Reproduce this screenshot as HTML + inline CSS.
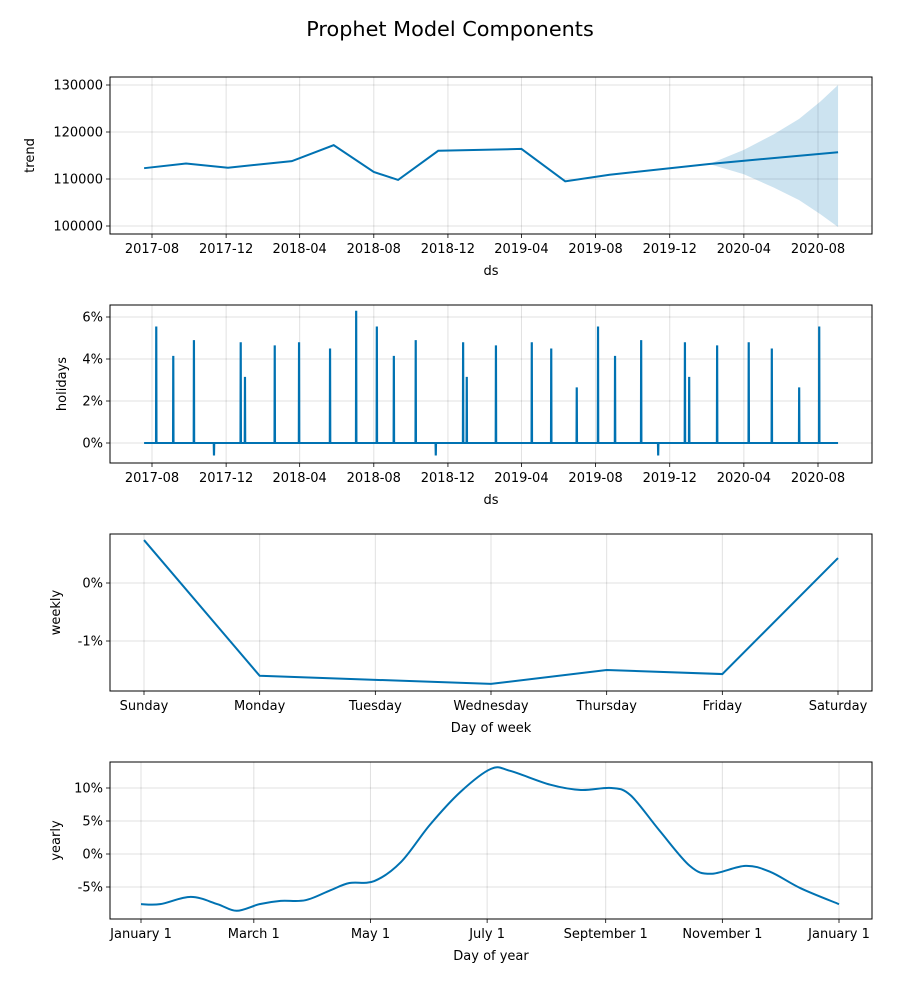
<!DOCTYPE html>
<html><head><meta charset="utf-8">
<style>
html,body{margin:0;padding:0;background:#fff;}
svg{display:block;font-family:"DejaVu Sans","Liberation Sans",sans-serif;}
</style></head>
<body>
<svg id="fig" width="900" height="990" viewBox="0 0 900 990">
<text x="450" y="36" text-anchor="middle" font-size="20.8" fill="#000">Prophet Model Components</text>
</svg>
<script>
// ---------- data ----------
const trendDates = ["2017-07-19","2017-09-26","2017-12-04","2018-03-19","2018-05-27","2018-08-01","2018-09-10","2018-11-15","2019-04-01","2019-06-12","2019-08-24","2020-02-04","2020-09-03"];
const trendValues = [112300,113300,112400,113800,117200,111500,109800,116000,116400,109500,110900,113200,115700];
const bandDates = ["2020-02-04","2020-04-01","2020-05-20","2020-07-01","2020-08-05","2020-09-03"];
const bandUpper = [113200,116200,119500,122800,126500,130000];
const bandLower = [113200,111000,108200,105500,102500,99800];
const trendTicks = ["2017-08","2017-12","2018-04","2018-08","2018-12","2019-04","2019-08","2019-12","2020-04","2020-08"];
const trendYTicks = [100000,110000,120000,130000];

const holidayOffsets = [7,35,69,102,146,153,202,242,293,336,370,398,434,467,512,518,566,625,657,699,734,762,805,833,877,884,930,982,1020,1065,1098];
const holidayValues = [5.5,4.1,4.85,-0.55,4.75,3.1,4.6,4.75,4.45,6.25,5.5,4.1,4.85,-0.55,4.75,3.1,4.6,4.75,4.45,2.6,5.5,4.1,4.85,-0.55,4.75,3.1,4.6,4.75,4.45,2.6,5.5];
const holidayYTicks = [0,2,4,6];

const weekDays = ["Sunday","Monday","Tuesday","Wednesday","Thursday","Friday","Saturday"];
const weeklyValues = [0.74,-1.60,-1.67,-1.74,-1.50,-1.57,0.43];
const weeklyYTicks = [-1,0];

const yearlyDays = [0,10,26,40,50,62,73,86,99,109,122,136,151,167,183,193,214,230,246,256,271,287,298,316,329,345,365];
const yearlyValues = [-7.6,-7.6,-6.5,-7.6,-8.6,-7.6,-7.1,-7.0,-5.5,-4.4,-4.1,-1.2,4.4,9.4,12.9,12.6,10.5,9.7,10.0,8.9,3.6,-1.8,-3.0,-1.8,-2.7,-5.2,-7.6];
const yearlyTickLabels = ["January 1","March 1","May 1","July 1","September 1","November 1","January 1"];
const yearlyTickDays = [0,59,120,181,243,304,365];
const yearlyYTicks = [-5,0,5,10];

// ---------- helpers ----------
const NS="http://www.w3.org/2000/svg";
const svg=document.getElementById('fig');
const C="#0072B2";
function mk(tag,attrs,parent){const e=document.createElementNS(NS,tag);for(const k in attrs)e.setAttribute(k,attrs[k]);(parent||svg).appendChild(e);return e;}
const L=110,R=872;
const base=Date.UTC(2017,7,1);
function dayOf(s){const p=s.split('-').map(Number);return (Date.UTC(p[0],p[1]-1,p[2]||1)-base)/864e5;}
const xDate=d=>152+d*(666/1096);
function axesFrame(top,bot,name){
  const g=mk('g',{});
  
  
  return g;
}
function gridX(g,x,top,bot,label,lname){
  mk('line',{x1:x,x2:x,y1:top,y2:bot,stroke:"#000","stroke-opacity":0.12,"stroke-width":1},g);
  mk('line',{x1:x,x2:x,y1:bot,y2:bot+4,stroke:"#000","stroke-width":0.8},g);
  const t=mk('text',{x:x,y:bot+19,"text-anchor":"middle","font-size":13},g);
  t.textContent=label;
  
  
}
function gridY(g,y,label,lname){
  mk('line',{x1:L,x2:R,y1:y,y2:y,stroke:"#000","stroke-opacity":0.12,"stroke-width":1},g);
  mk('line',{x1:L-4,x2:L,y1:y,y2:y,stroke:"#000","stroke-width":0.8},g);
  const t=mk('text',{x:L-7,y:y+4.5,"text-anchor":"end","font-size":13},g);
  t.textContent=label;
  
  
}
function border(g,top,bot){mk('rect',{x:L,y:top,width:R-L,height:bot-top,fill:"none",stroke:"#000","stroke-width":1},g);}
function labels(g,top,bot,xl,yl,yx){
  const t=mk('text',{x:(L+R)/2,y:bot+41,"text-anchor":"middle","font-size":13},g);t.textContent=xl;
  
  
  const cy=(top+bot)/2;
  const u=mk('text',{x:yx,y:cy,"text-anchor":"middle","font-size":13,transform:`rotate(-90 ${yx} ${cy})`},g);u.textContent=yl;
  
  
}
function smoothPath(pts){
  let d=`M${pts[0][0]},${pts[0][1]}`;
  for(let i=0;i<pts.length-1;i++){
    const p0=pts[Math.max(0,i-1)],p1=pts[i],p2=pts[i+1],p3=pts[Math.min(pts.length-1,i+2)];
    const c1=[p1[0]+(p2[0]-p0[0])/6,p1[1]+(p2[1]-p0[1])/6];
    const c2=[p2[0]-(p3[0]-p1[0])/6,p2[1]-(p3[1]-p1[1])/6];
    d+=` C${c1[0]},${c1[1]} ${c2[0]},${c2[1]} ${p2[0]},${p2[1]}`;
  }
  return d;
}

// ---------- panel 1: trend ----------
(function(){
  const top=77,bot=234;
  const y=v=>179-(v-110000)*(47/10000);
  const g=axesFrame(top,bot,'trend-panel');
  trendTicks.forEach(t=>gridX(g,xDate(dayOf(t)),top,bot,t,'x-tick-label'));
  trendYTicks.forEach(v=>gridY(g,y(v),String(v),'y-tick-label'));
  let d='';
  bandDates.forEach((s,i)=>{d+=(i?'L':'M')+xDate(dayOf(s))+','+y(bandUpper[i]);});
  for(let i=bandDates.length-1;i>=0;i--)d+='L'+xDate(dayOf(bandDates[i]))+','+y(bandLower[i]);
  const band=mk('path',{d:d+'Z',fill:C,"fill-opacity":0.2,stroke:"none"},g);
  
  
  const line=mk('polyline',{points:trendDates.map((s,i)=>xDate(dayOf(s))+','+y(trendValues[i])).join(' '),fill:"none",stroke:C,"stroke-width":2},g);
  
  
  border(g,top,bot);labels(g,top,bot,'ds','trend',34);
})();

// ---------- panel 2: holidays ----------
(function(){
  const top=305,bot=463;
  const y=v=>443-v*21;
  const g=axesFrame(top,bot,'holidays-panel');
  trendTicks.forEach(t=>gridX(g,xDate(dayOf(t)),top,bot,t,'x-tick-label'));
  holidayYTicks.forEach(v=>gridY(g,y(v),v+'%','y-tick-label'));
  const start=-13,end=1129;
  let pts=[[xDate(start),y(0)]];
  holidayOffsets.forEach((o,i)=>{
    const x=xDate(o);
    pts.push([x-0.3,y(0)],[x-0.1,y(holidayValues[i])],[x+0.1,y(holidayValues[i])],[x+0.3,y(0)]);
  });
  pts.push([xDate(end),y(0)]);
  const line=mk('polyline',{points:pts.map(p=>p.join(',')).join(' '),fill:"none",stroke:C,"stroke-width":2},g);
  
  
  border(g,top,bot);labels(g,top,bot,'ds','holidays',66);
})();

// ---------- panel 3: weekly ----------
(function(){
  const top=534,bot=691;
  const x=i=>144+i*(694/6);
  const y=v=>583-v*58;
  const g=axesFrame(top,bot,'weekly-panel');
  weekDays.forEach((d,i)=>gridX(g,x(i),top,bot,d,'x-tick-label'));
  weeklyYTicks.forEach(v=>gridY(g,y(v),v+'%','y-tick-label'));
  const line=mk('polyline',{points:weeklyValues.map((v,i)=>x(i)+','+y(v)).join(' '),fill:"none",stroke:C,"stroke-width":2},g);
  
  
  border(g,top,bot);labels(g,top,bot,'Day of week','weekly',60);
})();

// ---------- panel 4: yearly ----------
(function(){
  const top=762,bot=919;
  const x=d=>141+d*(698/365);
  const y=v=>854-v*6.6;
  const g=axesFrame(top,bot,'yearly-panel');
  yearlyTickLabels.forEach((l,i)=>gridX(g,x(yearlyTickDays[i]),top,bot,l,'x-tick-label'));
  yearlyYTicks.forEach(v=>gridY(g,y(v),v+'%','y-tick-label'));
  const line=mk('path',{d:smoothPath(yearlyDays.map((d,i)=>[x(d),y(yearlyValues[i])])),fill:"none",stroke:C,"stroke-width":2},g);
  
  
  border(g,top,bot);labels(g,top,bot,'Day of year','yearly',60);
})();
</script>
</body></html>
